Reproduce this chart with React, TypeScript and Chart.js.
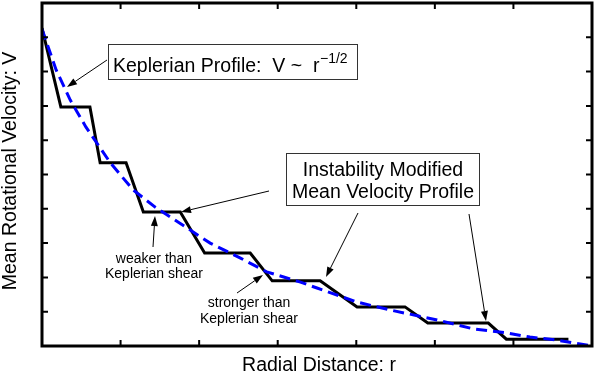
import React, { useEffect, useRef } from "react";
import { Chart, registerables } from "chart.js";

Chart.register(...registerables);

// Keplerian profile (blue dashed)
const keplerRadius = [0, 0.18, 0.36, 0.56, 0.87, 1.16, 1.44, 1.76, 2.14, 2.52, 2.86, 3.28, 3.5, 4.01, 4.43, 5.03, 5.49, 5.92, 6.21, 6.56, 7.0];
const keplerVelocity = [9.24, 8.05, 7.17, 6.38, 5.34, 4.55, 4.05, 3.57, 3.0, 2.57, 2.16, 1.87, 1.69, 1.28, 1.05, 0.76, 0.5, 0.38, 0.26, 0.17, 0.0];

// Instability modified mean velocity profile (black staircase)
const modifiedRadius = [0, 0.24, 0.61, 0.74, 1.07, 1.29, 1.76, 2.07, 2.65, 2.93, 3.54, 4.01, 4.62, 4.91, 5.68, 5.91, 6.7];
const modifiedVelocity = [9.27, 6.97, 6.97, 5.34, 5.34, 3.91, 3.91, 2.71, 2.71, 1.9, 1.9, 1.14, 1.14, 0.67, 0.67, 0.2, 0.2];

const xTicks = [0, 1, 2, 3, 4, 5, 6, 7];
const yTicks = [0, 1, 2, 3, 4, 5, 6, 7, 8, 9, 10];

const xTitle = "Radial Distance: r";
const yTitle = "Mean Rotational Velocity: V";
const keplerLabel = "Keplerian Profile:  V ~  r";
const keplerExponent = "\u22121/2";
const modifiedLabel = ["Instability Modified", "Mean Velocity Profile"];
const weakerLabel = ["weaker than", "Keplerian shear"];
const strongerLabel = ["stronger than", "Keplerian shear"];

const FONT = "'Liberation Sans', Arial, Helvetica, sans-serif";

function arrow(ctx: CanvasRenderingContext2D, x1: number, y1: number, x2: number, y2: number) {
  const ang = Math.atan2(y2 - y1, x2 - x1);
  const len = 10;
  const hw = 3.5;
  const bx = x2 - len * Math.cos(ang);
  const by = y2 - len * Math.sin(ang);
  ctx.save();
  ctx.strokeStyle = "#000";
  ctx.fillStyle = "#000";
  ctx.lineWidth = 1;
  ctx.beginPath();
  ctx.moveTo(x1, y1);
  ctx.lineTo(bx, by);
  ctx.stroke();
  ctx.beginPath();
  ctx.moveTo(x2, y2);
  ctx.lineTo(bx + hw * Math.sin(ang), by - hw * Math.cos(ang));
  ctx.lineTo(bx - hw * Math.sin(ang), by + hw * Math.cos(ang));
  ctx.closePath();
  ctx.fill();
  ctx.restore();
}

function box(ctx: CanvasRenderingContext2D, x1: number, y1: number, x2: number, y2: number) {
  ctx.save();
  ctx.fillStyle = "#fff";
  ctx.fillRect(x1, y1, x2 - x1, y2 - y1);
  ctx.strokeStyle = "#333";
  ctx.lineWidth = 1;
  ctx.strokeRect(x1 + 0.5, y1 + 0.5, x2 - x1, y2 - y1);
  ctx.restore();
}

const decorPlugin = {
  id: "decor",
  afterDraw(chart: any) {
    const ctx: CanvasRenderingContext2D = chart.ctx;
    const a = chart.chartArea;
    const xs = chart.scales.x;
    const ys = chart.scales.y;
    ctx.save();
    // frame
    ctx.strokeStyle = "#000";
    ctx.lineWidth = 3;
    ctx.strokeRect(a.left, a.top, a.right - a.left, a.bottom - a.top);
    // ticks
    ctx.lineWidth = 2;
    ctx.beginPath();
    for (const t of xTicks) {
      const px = xs.getPixelForValue(t);
      ctx.moveTo(px, a.bottom);
      ctx.lineTo(px, a.bottom - 6);
      ctx.moveTo(px, a.top);
      ctx.lineTo(px, a.top + 6);
    }
    for (const t of yTicks) {
      const py = ys.getPixelForValue(t);
      ctx.moveTo(a.left, py);
      ctx.lineTo(a.left + 6, py);
      ctx.moveTo(a.right, py);
      ctx.lineTo(a.right - 6, py);
    }
    ctx.stroke();

    // axis titles
    ctx.fillStyle = "#000";
    ctx.font = `19.5px ${FONT}`;
    ctx.textAlign = "center";
    ctx.textBaseline = "alphabetic";
    ctx.fillText(xTitle, (a.left + a.right) / 2 + 2, 371);
    ctx.save();
    ctx.translate(16, 171);
    ctx.rotate(-Math.PI / 2);
    ctx.fillText(yTitle, 0, 0);
    ctx.restore();

    // Keplerian annotation
    arrow(ctx, 107, 60, 67, 87);
    box(ctx, 108, 44, 357, 79);
    ctx.textAlign = "left";
    ctx.font = `19.5px ${FONT}`;
    ctx.fillText(keplerLabel, 113, 72);
    const w = ctx.measureText(keplerLabel).width;
    ctx.font = `14px ${FONT}`;
    ctx.fillText(keplerExponent, 113 + w + 0.5, 63);

    // Modified profile annotation
    box(ctx, 286, 153, 479, 205);
    ctx.font = `19.5px ${FONT}`;
    ctx.textAlign = "center";
    ctx.fillText(modifiedLabel[0], 383, 176);
    ctx.fillText(modifiedLabel[1], 383, 198);
    arrow(ctx, 269, 191, 181, 212);
    arrow(ctx, 358, 213, 326, 277);
    arrow(ctx, 469, 214, 486, 321);

    // shear notes
    ctx.font = `14px ${FONT}`;
    ctx.fillText(weakerLabel[0], 154, 263);
    ctx.fillText(weakerLabel[1], 154, 278);
    arrow(ctx, 153, 247, 155, 216);
    ctx.fillText(strongerLabel[0], 249, 307);
    ctx.fillText(strongerLabel[1], 249, 323);
    arrow(ctx, 237, 293, 263, 275);
    ctx.restore();
  },
};

export default function App() {
  const ref = useRef<HTMLCanvasElement | null>(null);
  useEffect(() => {
    if (!ref.current) return;
    const chart = new Chart(ref.current, {
      type: "line",
      data: {
        datasets: [
          {
            label: "Keplerian",
            data: keplerRadius.map((r, i) => ({ x: r, y: keplerVelocity[i] })),
            borderColor: "#0000ff",
            borderWidth: 3,
            borderDash: [11, 6],
            pointRadius: 0,
            fill: false,
            tension: 0,
          },
          {
            label: "Modified",
            data: modifiedRadius.map((r, i) => ({ x: r, y: modifiedVelocity[i] })),
            borderColor: "#000000",
            borderWidth: 3,
            pointRadius: 0,
            fill: false,
            tension: 0,
          },
        ],
      },
      options: {
        animation: false,
        responsive: false,
        maintainAspectRatio: false,
        layout: { padding: { left: 42, right: 4, top: 3, bottom: 28 } },
        plugins: { legend: { display: false }, tooltip: { enabled: false } },
        scales: {
          x: { type: "linear", min: 0, max: 7, display: false },
          y: { type: "linear", min: 0, max: 10, display: false },
        },
      },
      plugins: [decorPlugin],
    });
    return () => chart.destroy();
  }, []);
  return (
    <div style={{ position: "fixed", left: 0, top: 0, width: 596, height: 374, background: "#fff" }}>
      <canvas ref={ref} width={596} height={374} style={{ width: 596, height: 374 }} />
    </div>
  );
}
